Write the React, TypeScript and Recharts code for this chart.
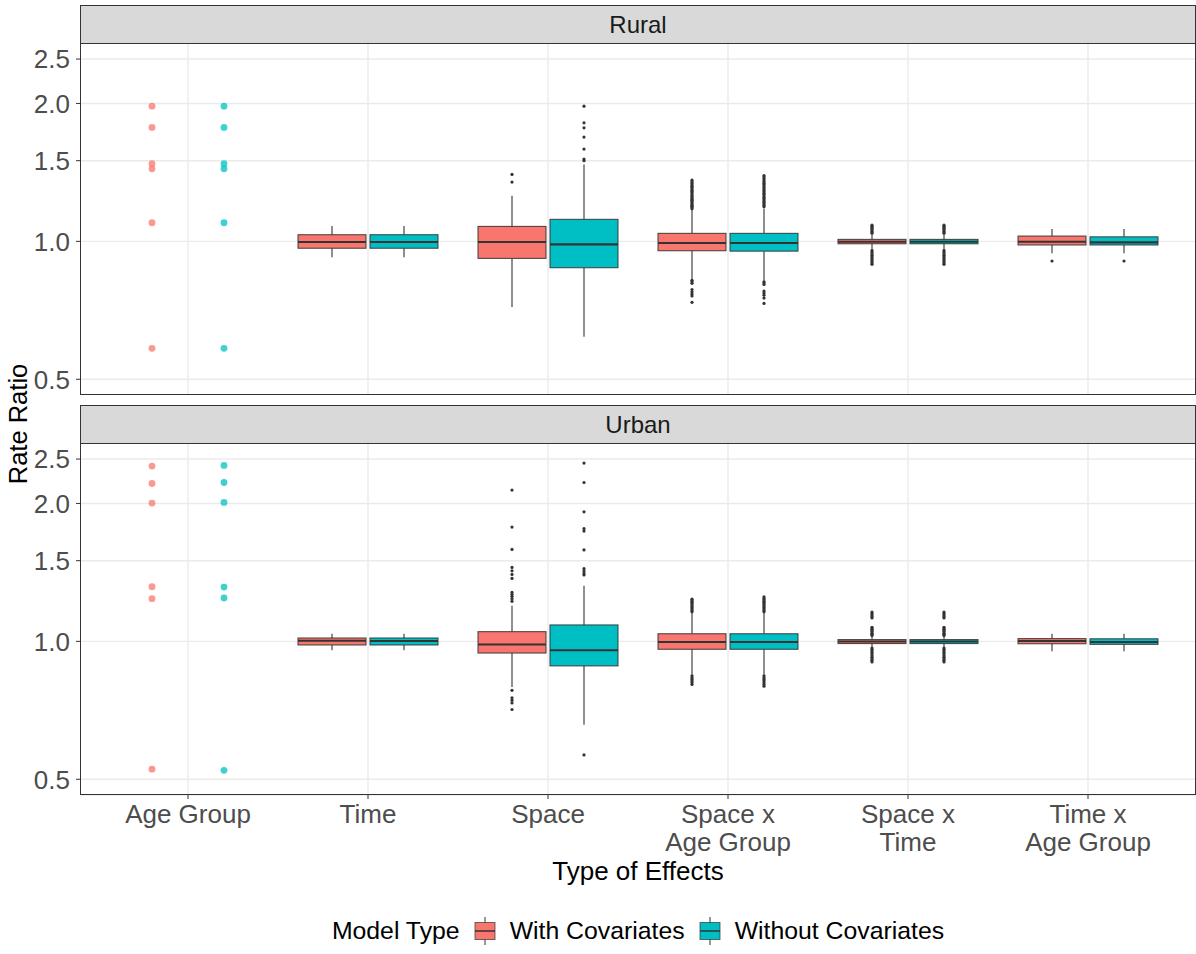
import React from 'react';
import { ComposedChart, Bar, XAxis, YAxis, CartesianGrid, ReferenceLine } from 'recharts';

const FONT = '"Liberation Sans", Arial, Helvetica, sans-serif';

const categories = ['Age Group', 'Time', 'Space', 'Space x Age Group', 'Space x Time', 'Time x Age Group'];
const categoryLabelLines = [['Age Group'], ['Time'], ['Space'], ['Space x', 'Age Group'], ['Space x', 'Time'], ['Time x', 'Age Group']];
const seriesNames = ['With Covariates', 'Without Covariates'];
const seriesColors = ['#F8766D', '#00BFC4'];
const facetNames = ['Rural', 'Urban'];
const yTicks = [0.5, 1.0, 1.5, 2.0, 2.5];
const yDomain = [0.462, 2.71];

type Box = number[] | null; // [lower whisker, Q1, median, Q3, upper whisker]

// ---------- Rural ----------
const ruralWithAgePoints = [1.973, 1.773, 1.477, 1.44, 1.098, 0.584];
const ruralWithoutAgePoints = [1.973, 1.773, 1.477, 1.44, 1.098, 0.584];
const ruralWithBoxes: Box[] = [
  null,
  [0.923, 0.966, 0.997, 1.034, 1.08],
  [0.719, 0.918, 0.997, 1.078, 1.257],
  [0.828, 0.954, 0.992, 1.041, 1.17],
  [0.958, 0.988, 0.998, 1.01, 1.037],
  [0.942, 0.982, 0.998, 1.027, 1.064],
];
const ruralWithoutBoxes: Box[] = [
  null,
  [0.923, 0.966, 0.997, 1.034, 1.08],
  [0.619, 0.876, 0.985, 1.117, 1.472],
  [0.82, 0.952, 0.992, 1.041, 1.18],
  [0.958, 0.988, 0.998, 1.01, 1.037],
  [0.942, 0.982, 0.995, 1.023, 1.064],
];
const ruralWithOutliers: number[][] = [
  [],
  [],
  [1.347, 1.4],
  [0.822, 0.816, 0.81, 0.785, 0.776, 0.768, 0.76, 0.736,
    1.178, 1.186, 1.193, 1.199, 1.206, 1.214, 1.221, 1.229, 1.236, 1.244, 1.251, 1.259,
    1.268, 1.276, 1.285, 1.293, 1.302, 1.311, 1.319, 1.328, 1.338, 1.348, 1.36],
  [0.955, 0.948, 0.94, 0.932, 0.926, 0.918, 0.911, 0.904, 0.897, 0.891,
    1.042, 1.048, 1.054, 1.06, 1.066, 1.072, 1.078, 1.085],
  [0.906],
];
const ruralWithoutOutliers: number[][] = [
  [],
  [],
  [1.5, 1.512, 1.59, 1.689, 1.769, 1.814, 1.973],
  [0.816, 0.811, 0.805, 0.779, 0.771, 0.763, 0.752, 0.732,
    1.19, 1.198, 1.206, 1.214, 1.222, 1.231, 1.239, 1.247, 1.256, 1.265, 1.274, 1.283,
    1.292, 1.301, 1.311, 1.32, 1.33, 1.34, 1.35, 1.361, 1.372, 1.383, 1.392],
  [0.955, 0.948, 0.94, 0.932, 0.926, 0.918, 0.911, 0.904, 0.897, 0.891,
    1.042, 1.048, 1.054, 1.06, 1.066, 1.072, 1.078, 1.085],
  [0.906],
];

// ---------- Urban ----------
const urbanWithAgePoints = [2.413, 2.211, 2.004, 1.316, 1.239, 0.526];
const urbanWithoutAgePoints = [2.421, 2.222, 2.01, 1.314, 1.244, 0.523];
const urbanWithBoxes: Box[] = [
  null,
  [0.956, 0.982, 1.003, 1.017, 1.039],
  [0.795, 0.943, 0.984, 1.05, 1.196],
  [0.846, 0.961, 0.997, 1.039, 1.153],
  [0.97, 0.989, 0.999, 1.009, 1.026],
  [0.951, 0.988, 1.002, 1.014, 1.039],
];
const urbanWithoutBoxes: Box[] = [
  null,
  [0.956, 0.982, 1.002, 1.017, 1.039],
  [0.658, 0.884, 0.956, 1.086, 1.323],
  [0.846, 0.961, 0.997, 1.039, 1.153],
  [0.97, 0.989, 0.999, 1.009, 1.026],
  [0.951, 0.985, 0.997, 1.013, 1.039],
];
const urbanWithOutliers: number[][] = [
  [],
  [],
  [0.782, 0.753, 0.744, 0.734, 0.71,
    1.223, 1.239, 1.254, 1.266, 1.279, 1.372, 1.4, 1.426, 1.45, 1.587, 1.776, 2.139],
  [0.841, 0.833, 0.826, 0.819, 0.812, 0.805,
    1.16, 1.168, 1.176, 1.184, 1.192, 1.2, 1.208, 1.216, 1.224, 1.232, 1.237],
  [0.967, 0.96, 0.953, 0.945, 0.938, 0.93, 0.923, 0.916, 0.909, 0.902,
    1.03, 1.036, 1.042, 1.049, 1.055, 1.061, 1.067, 1.073, 1.125, 1.133, 1.141, 1.15, 1.159],
  [],
];
const urbanWithoutOutliers: number[][] = [
  [],
  [],
  [0.565, 1.396, 1.407, 1.424, 1.441, 1.583, 1.741, 1.762, 1.918, 2.222, 2.45],
  [0.841, 0.833, 0.826, 0.819, 0.812, 0.805, 0.798,
    1.16, 1.168, 1.176, 1.184, 1.192, 1.2, 1.208, 1.216, 1.224, 1.232, 1.241, 1.25],
  [0.967, 0.96, 0.953, 0.945, 0.938, 0.93, 0.923, 0.916, 0.909, 0.902,
    1.03, 1.036, 1.042, 1.049, 1.055, 1.061, 1.067, 1.073, 1.125, 1.133, 1.141, 1.15, 1.159],
  [],
];

type Stats = { box: Box; outliers: number[]; points: number[]; range: number[] };

function makeStats(boxes: Box[], outs: number[][], pts: number[], i: number): Stats {
  const box = boxes[i];
  const points = i === 0 ? pts : [];
  const all = [...(box || []), ...outs[i], ...points];
  return { box, outliers: outs[i], points, range: [Math.min(...all), Math.max(...all)] };
}

function buildRows(wb: Box[], wo: number[][], wp: number[], nb: Box[], no: number[][], np: number[]) {
  return categories.map((category, i) => {
    const w = makeStats(wb, wo, wp, i);
    const n = makeStats(nb, no, np, i);
    return { category, w, n, wRange: w.range, nRange: n.range };
  });
}

const ruralRows = buildRows(ruralWithBoxes, ruralWithOutliers, ruralWithAgePoints, ruralWithoutBoxes, ruralWithoutOutliers, ruralWithoutAgePoints);
const urbanRows = buildRows(urbanWithBoxes, urbanWithOutliers, urbanWithAgePoints, urbanWithoutBoxes, urbanWithoutOutliers, urbanWithoutAgePoints);

function renderBox(p: any, key: 'w' | 'n', color: string) {
  const s: Stats | undefined = p && p.payload ? p.payload[key] : undefined;
  if (!s || p.x == null || p.y == null) return <g />;
  const top = Math.min(p.y, p.y + p.height);
  const bot = Math.max(p.y, p.y + p.height);
  const [lo, hi] = s.range;
  const L = Math.log(hi) - Math.log(lo);
  const py = (v: number) => (L === 0 ? top : top + ((bot - top) * (Math.log(hi) - Math.log(v))) / L);
  const cx = p.x + p.width / 2;
  const dark = '#333333';
  if (!s.box) {
    return (
      <g>
        {s.points.map((v, i) => (
          <circle key={i} cx={cx} cy={py(v)} r={3.4} fill={color} fillOpacity={0.75} />
        ))}
      </g>
    );
  }
  const [wl, q1, med, q3, wh] = s.box;
  return (
    <g>
      <line x1={cx} x2={cx} y1={py(wh)} y2={py(q3)} stroke={dark} strokeWidth={1.1} />
      <line x1={cx} x2={cx} y1={py(q1)} y2={py(wl)} stroke={dark} strokeWidth={1.1} />
      <rect x={p.x} y={py(q3)} width={p.width} height={Math.max(0.5, py(q1) - py(q3))} fill={color} stroke={dark} strokeOpacity={0.85} strokeWidth={1.1} />
      <line x1={p.x} x2={p.x + p.width} y1={py(med)} y2={py(med)} stroke={dark} strokeWidth={2.1} />
      {s.outliers.map((v, i) => (
        <circle key={i} cx={cx} cy={py(v)} r={1.6} fill={dark} />
      ))}
    </g>
  );
}

const XTick = (props: any) => {
  const { x, y, payload } = props;
  const idx = categories.indexOf(payload.value);
  const lines = categoryLabelLines[idx] || [String(payload.value)];
  return (
    <text x={x} y={y} textAnchor="middle" fill="#4D4D4D" fontSize={26} fontFamily={FONT}>
      {lines.map((l, i) => (
        <tspan key={i} x={x} dy={i === 0 ? 22 : 28}>
          {l}
        </tspan>
      ))}
    </text>
  );
};

function FacetChart({ rows, showX, top, height }: { rows: any[]; showX: boolean; top: number; height: number }) {
  return (
    <div style={{ position: 'absolute', left: 0, top }}>
      <ComposedChart width={1196} height={height} data={rows} margin={{ top: 0, right: 0, bottom: 0, left: 0 }} barGap={4}>
        <CartesianGrid vertical={false} stroke="#EBEBEB" strokeWidth={1.4} />
        {categories.map((c) => (
          <ReferenceLine key={c} x={c} stroke="#EBEBEB" strokeWidth={1.4} />
        ))}
        <XAxis
          dataKey="category"
          type="category"
          padding={{ left: 18, right: 18 }}
          hide={!showX}
          height={showX ? 75 : 0}
          axisLine={false}
          tickLine={{ stroke: '#333333' }}
          tickSize={4}
          tickMargin={2}
          interval={0}
          tick={<XTick />}
        />
        <YAxis
          type="number"
          scale="log"
          domain={yDomain}
          allowDataOverflow
          ticks={yTicks}
          tickFormatter={(v: number) => v.toFixed(1)}
          width={80}
          axisLine={false}
          tickLine={{ stroke: '#333333' }}
          tickSize={4}
          tickMargin={6}
          tick={{ fill: '#4D4D4D', fontSize: 26, fontFamily: FONT }}
        />
        <Bar dataKey="wRange" name={seriesNames[0]} barSize={68} isAnimationActive={false} shape={(p: any) => renderBox(p, 'w', seriesColors[0])} />
        <Bar dataKey="nRange" name={seriesNames[1]} barSize={68} isAnimationActive={false} shape={(p: any) => renderBox(p, 'n', seriesColors[1])} />
      </ComposedChart>
    </div>
  );
}

const Strip = ({ label, top }: { label: string; top: number }) => (
  <div
    style={{
      position: 'absolute', left: 80, top, width: 1116, height: 39, boxSizing: 'border-box',
      background: '#D9D9D9', border: '1px solid #333333', display: 'flex', alignItems: 'center',
      justifyContent: 'center', fontFamily: FONT, fontSize: 24, color: '#1A1A1A',
    }}
  >
    {label}
  </div>
);

const PanelBorder = ({ top }: { top: number }) => (
  <div
    style={{
      position: 'absolute', left: 80, top, width: 1116, height: 352, boxSizing: 'border-box',
      border: '1px solid #333333', pointerEvents: 'none',
    }}
  />
);

const LegendKey = ({ color }: { color: string }) => (
  <svg width={22} height={32} style={{ display: 'block' }}>
    <line x1={11} x2={11} y1={2} y2={30} stroke="#333333" strokeWidth={1} />
    <rect x={1} y={7.5} width={20} height={17} fill={color} stroke="#333333" strokeOpacity={0.7} strokeWidth={1} />
    <line x1={1} x2={21} y1={16} y2={16} stroke="#333333" strokeWidth={1.5} />
  </svg>
);

export default function App() {
  return (
    <div style={{ position: 'absolute', left: 0, top: 0, width: 1196, height: 954, background: '#FFFFFF', overflow: 'hidden', fontFamily: FONT }}>
      <FacetChart rows={ruralRows} showX={false} top={43} height={352} />
      <PanelBorder top={43} />
      <Strip label={facetNames[0]} top={5} />
      <FacetChart rows={urbanRows} showX={true} top={443} height={427} />
      <PanelBorder top={443} />
      <Strip label={facetNames[1]} top={405} />
      <div
        style={{
          position: 'absolute', left: 18, top: 424, transform: 'translate(-50%, -50%) rotate(-90deg)',
          fontSize: 25.5, color: '#000', whiteSpace: 'nowrap',
        }}
      >
        Rate Ratio
      </div>
      <div style={{ position: 'absolute', left: 80, width: 1116, top: 856, textAlign: 'center', fontSize: 26, color: '#000' }}>
        Type of Effects
      </div>
      <div
        style={{
          position: 'absolute', left: 80, width: 1116, top: 911, height: 40, display: 'flex',
          alignItems: 'center', justifyContent: 'center', fontSize: 24.8, color: '#000',
        }}
      >
        <span style={{ marginRight: 14 }}>Model Type</span>
        <LegendKey color={seriesColors[0]} />
        <span style={{ marginLeft: 14, marginRight: 14 }}>{seriesNames[0]}</span>
        <LegendKey color={seriesColors[1]} />
        <span style={{ marginLeft: 14 }}>{seriesNames[1]}</span>
      </div>
    </div>
  );
}
